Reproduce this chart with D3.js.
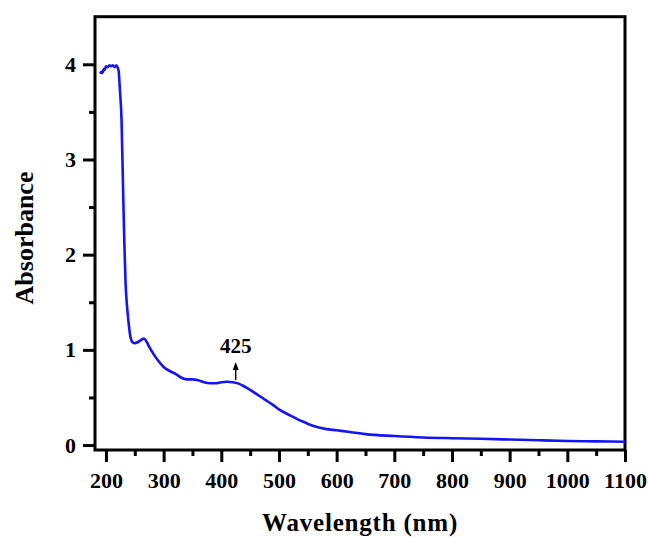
<!DOCTYPE html>
<html>
<head>
<meta charset="utf-8">
<script src="https://cdn.jsdelivr.net/npm/d3@7"></script>
<style>
  html, body { margin: 0; padding: 0; background: #ffffff; }
  svg { display: block; }
  text { font-family: "Liberation Serif", "Times New Roman", serif; font-weight: bold; fill: #000; }
</style>
</head>
<body>
<svg id="chart" width="648" height="537"></svg>
<script>
// UV-Vis absorption spectrum
const wavelength = [
  190, 192, 194, 196, 198, 200, 203, 206, 209, 212, 215, 218, 220, 222, 224, 227,
  230, 232, 234, 236, 239, 242, 246, 250, 255, 260, 266, 270, 276, 282, 290, 300,
  310, 320, 330, 340, 350, 360, 370, 380, 390, 400, 410, 420, 430, 440, 450, 460,
  475, 490, 500, 520, 540, 560, 580, 600, 620, 650, 700, 750, 800, 850, 900, 950,
  1000, 1050, 1100
];
const absorbance = [
  3.90, 3.92, 3.91, 3.95, 3.94, 3.98, 3.97, 3.99, 3.98, 3.99, 3.97, 3.99, 3.97, 3.93, 3.75, 3.42,
  2.60, 2.10, 1.70, 1.50, 1.30, 1.15, 1.08, 1.07, 1.08, 1.10, 1.12, 1.09, 1.02, 0.96, 0.89, 0.82,
  0.78, 0.75, 0.71, 0.69, 0.69, 0.68, 0.66, 0.65, 0.65, 0.66, 0.665, 0.66, 0.645, 0.615, 0.58, 0.54,
  0.48, 0.42, 0.375, 0.31, 0.25, 0.20, 0.17, 0.155, 0.14, 0.115, 0.095, 0.08, 0.072, 0.066, 0.058, 0.05,
  0.043, 0.039, 0.035
];

const xTicks = [200, 300, 400, 500, 600, 700, 800, 900, 1000, 1100];
const xMinorTicks = [250, 350, 450, 550, 650, 750, 850, 950, 1050];
const yTicks = [0, 1, 2, 3, 4];
const yMinorTicks = [0.5, 1.5, 2.5, 3.5];
const peakLabel = "425";
const peakWavelength = 425;
const xTitle = "Wavelength (nm)";
const yTitle = "Absorbance";

const svg = d3.select("#chart");
const frame = { left: 95, right: 625, top: 16.7, bottom: 450 };

const x = d3.scaleLinear().domain([181, 1100]).range([frame.left, frame.right]);
const y = d3.scaleLinear().domain([-0.052, 4.5]).range([frame.bottom, frame.top]);

// frame box
svg.append("rect")
  .attr("x", frame.left).attr("y", frame.top)
  .attr("width", frame.right - frame.left).attr("height", frame.bottom - frame.top)
  .attr("fill", "none").attr("stroke", "#000").attr("stroke-width", 3);

// bottom axis (ticks outward)
const xAxis = svg.append("g").attr("transform", `translate(0,${frame.bottom})`);
xAxis.call(d3.axisBottom(x).tickValues(xTicks).tickSize(12).tickPadding(10).tickFormat(d3.format("d")));
xAxis.append("g").call(d3.axisBottom(x).tickValues(xMinorTicks).tickSize(6).tickFormat(""));
xAxis.selectAll(".domain").remove();
xAxis.selectAll("line").attr("stroke", "#000").attr("stroke-width", 3);
xAxis.selectAll("text")
  .style("font-family", "'Liberation Serif', serif").style("font-weight", "bold")
  .style("font-size", "22px").attr("fill", "#000");

// left axis (ticks outward)
const yAxis = svg.append("g").attr("transform", `translate(${frame.left},0)`);
yAxis.call(d3.axisLeft(y).tickValues(yTicks).tickSize(12).tickPadding(7).tickFormat(d3.format("d")));
yAxis.append("g").call(d3.axisLeft(y).tickValues(yMinorTicks).tickSize(6).tickFormat(""));
yAxis.selectAll(".domain").remove();
yAxis.selectAll("line").attr("stroke", "#000").attr("stroke-width", 3);
yAxis.selectAll("text")
  .style("font-family", "'Liberation Serif', serif").style("font-weight", "bold")
  .style("font-size", "22px").attr("fill", "#000");

// spectrum
const pts = wavelength.map((w, i) => [w, absorbance[i]]);
const line = d3.line().x(d => x(d[0])).y(d => y(d[1])).curve(d3.curveMonotoneX);
svg.append("path")
  .datum(pts)
  .attr("d", line)
  .attr("fill", "none")
  .attr("stroke", "#1414f5")
  .attr("stroke-width", 2.6)
  .attr("stroke-linejoin", "round");

// peak marker: arrow + label
const peakAbs = d3.scaleLinear().domain(wavelength).range(absorbance)(peakWavelength);
const px = x(peakWavelength);
const arrowBase = y(peakAbs + 0.03);
const arrowTip = y(peakAbs + 0.22);
svg.append("line")
  .attr("x1", px).attr("x2", px)
  .attr("y1", arrowBase).attr("y2", arrowTip + 6)
  .attr("stroke", "#000").attr("stroke-width", 1.4);
svg.append("path")
  .attr("d", `M${px},${arrowTip} L${px - 3},${arrowTip + 8} L${px + 3},${arrowTip + 8} Z`)
  .attr("fill", "#000");
svg.append("text")
  .attr("x", px).attr("y", arrowTip - 8.5)
  .attr("text-anchor", "middle")
  .style("font-size", "21px")
  .text(peakLabel);

// axis titles
svg.append("text")
  .attr("x", 360).attr("y", 531)
  .attr("text-anchor", "middle")
  .style("font-size", "25px")
  .style("letter-spacing", "0.8px")
  .text(xTitle);

svg.append("text")
  .attr("transform", "translate(33,238) rotate(-90)")
  .attr("text-anchor", "middle")
  .style("font-size", "26px")
  .text(yTitle);
</script>
</body>
</html>
